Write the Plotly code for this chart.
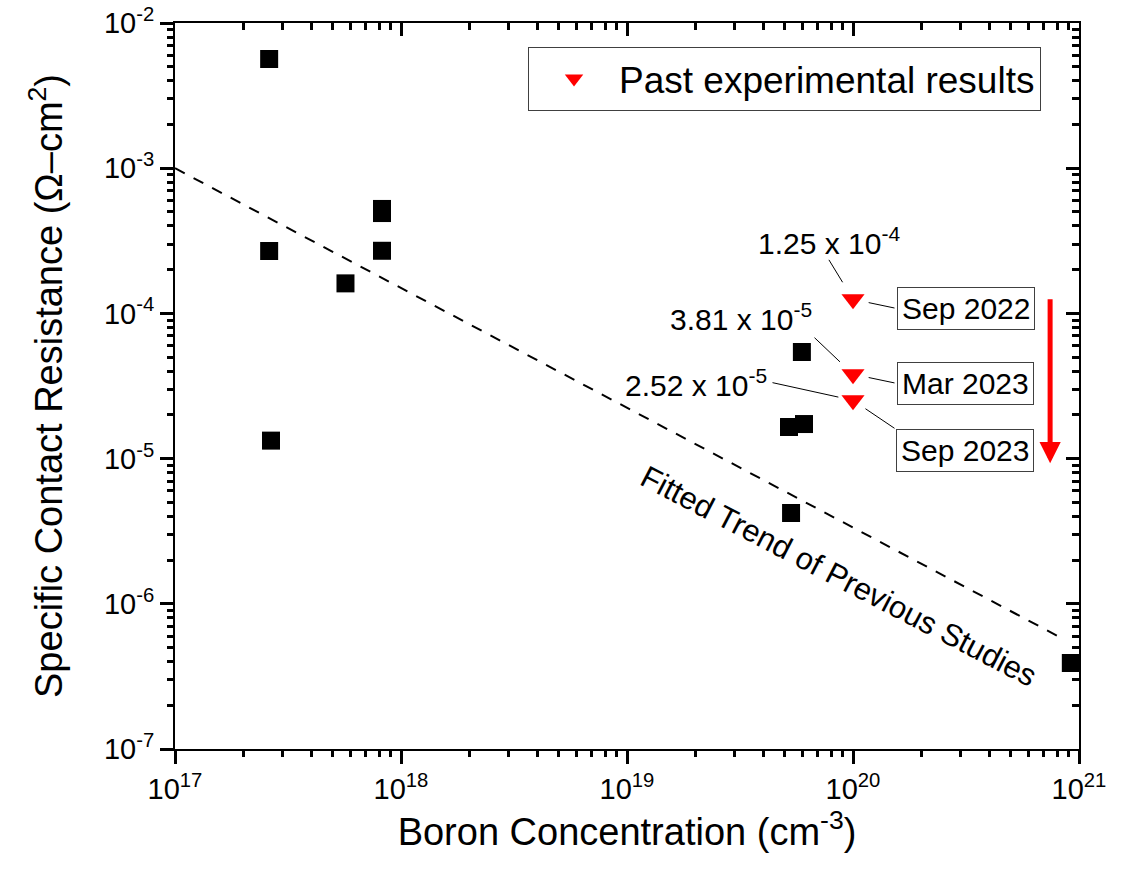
import numpy as np
import plotly.graph_objects as go

# ---- data ----
# previous studies (boron concentration in cm^-3, contact resistance in ohm-cm^2)
prev_conc = [2.61e17, 2.61e17, 2.66e17, 5.68e17, 8.24e17, 8.24e17, 8.24e17,
             5.94e19, 5.21e19, 6.07e19, 5.32e19, 9.2e20]
prev_rc = [5.65e-3, 2.69e-4, 1.33e-5, 1.61e-4, 5.24e-4, 4.91e-4, 2.70e-4,
           5.42e-5, 1.65e-5, 1.73e-5, 4.22e-6, 3.91e-7]

# own experimental results
exp_conc = [1e20, 1e20, 1e20]
exp_rc = [1.25e-4, 3.81e-5, 2.52e-5]
exp_dates = ["Sep 2022", "Mar 2023", "Sep 2023"]
exp_value_text = ["1.25 x 10<sup>-4</sup>", "3.81 x 10<sup>-5</sup>", "2.52 x 10<sup>-5</sup>"]

# fitted trend of previous studies (end points of the straight log-log line)
fit_conc = [1e17, 8.67e20]
fit_rc = [1e-3, 5.64e-7]

# improvement arrow (start and end resistance at a fixed concentration)
trend_arrow_conc = 7.45e20
trend_arrow_rc = [1.28e-4, 9.3e-6]

# axis ticks
x_major = [1e17, 1e18, 1e19, 1e20, 1e21]
x_major_text = ["10<sup>17</sup>", "10<sup>18</sup>", "10<sup>19</sup>", "10<sup>20</sup>", "10<sup>21</sup>"]
y_major = [1e-7, 1e-6, 1e-5, 1e-4, 1e-3, 1e-2]
y_major_text = ["10<sup>-7</sup>", "10<sup>-6</sup>", "10<sup>-5</sup>", "10<sup>-4</sup>",
                "10<sup>-3</sup>", "10<sup>-2</sup>"]

FONT = "Arial, Liberation Sans, sans-serif"
X_RANGE = [17, 21]
Y_RANGE = [-7, -2]
MAJOR_LEN, MINOR_LEN, TICK_W = 13, 7, 2.5

x_minor = [m * 10.0 ** e for e in range(17, 21) for m in range(2, 10)]
y_minor = [m * 10.0 ** e for e in range(-7, -2) for m in range(2, 10)]

fig = go.Figure()

fig.add_trace(go.Scatter(
    x=fit_conc, y=fit_rc, mode="lines",
    line=dict(color="black", width=2, dash="11px,10px"),
    showlegend=False, hoverinfo="skip"))

fig.add_trace(go.Scatter(
    x=prev_conc, y=prev_rc, mode="markers",
    marker=dict(symbol="square", size=18, color="black", line=dict(width=0)),
    showlegend=False, cliponaxis=False))

fig.add_trace(go.Scatter(
    x=exp_conc, y=exp_rc, mode="markers", name="Past experimental results",
    marker=dict(symbol="triangle-down", size=20, color="#ff0000", line=dict(width=0)),
    cliponaxis=False))

# empty traces so the extra tick-only axes are drawn
for xa, ya in (("x2", "y2"), ("x3", "y3"), ("x4", "y4")):
    fig.add_trace(go.Scatter(x=[], y=[], xaxis=xa, yaxis=ya, showlegend=False))

annotations = []
lx = np.log10(exp_conc)
ly = np.log10(exp_rc)

# value labels and leader lines
value_shift = [(-24, 58), (-112, 57), (-157, 17)]
value_leader = [(-25, -41, 20), (-40, -38, 18), (-82, -18, 15)]
date_shift = [(113, -9), (112, -9), (112, -50)]
date_leader = [(43, 9, 16), (43, 9, 16), (43, 29, 15)]

for i in range(3):
    annotations.append(dict(
        x=lx[i], y=ly[i], xref="x", yref="y", text=exp_value_text[i], showarrow=False,
        xshift=value_shift[i][0], yshift=value_shift[i][1],
        font=dict(family=FONT, size=30, color="black")))
    annotations.append(dict(
        x=lx[i], y=ly[i], xref="x", yref="y", text="", showarrow=True,
        ax=value_leader[i][0], ay=value_leader[i][1], standoff=value_leader[i][2],
        arrowhead=0, arrowwidth=1, arrowcolor="black"))
    annotations.append(dict(
        x=lx[i], y=ly[i], xref="x", yref="y", text=exp_dates[i], showarrow=False,
        xshift=date_shift[i][0], yshift=date_shift[i][1],
        bordercolor="#404040", borderwidth=1, borderpad=4, bgcolor="white",
        font=dict(family=FONT, size=30, color="black")))
    annotations.append(dict(
        x=lx[i], y=ly[i], xref="x", yref="y", text="", showarrow=True,
        ax=date_leader[i][0], ay=date_leader[i][1], standoff=date_leader[i][2],
        arrowhead=0, arrowwidth=1, arrowcolor="black"))

# red arrow showing the reduction over time
annotations.append(dict(
    x=np.log10(trend_arrow_conc), y=np.log10(trend_arrow_rc[1]), xref="x", yref="y",
    ax=np.log10(trend_arrow_conc), ay=np.log10(trend_arrow_rc[0]), axref="x", ayref="y",
    text="", showarrow=True, arrowhead=2, arrowwidth=5, arrowsize=0.85, arrowcolor="#ff0000"))

# label of the fitted trend line
annotations.append(dict(
    x=19.938, y=-5.815, xref="x", yref="y", text="Fitted Trend of Previous Studies",
    showarrow=False, textangle=27.5, font=dict(family=FONT, size=31, color="black")))


def tick_axis(rng, side, anchor, over, vals, direction, length):
    """Label-free log axis used only to draw a set of tick marks."""
    return dict(type="log", range=rng, overlaying=over, side=side, anchor=anchor,
                automargin=False, showgrid=False, zeroline=False, showline=False,
                showticklabels=False, ticks=direction, ticklen=length, tickwidth=TICK_W,
                tickcolor="black", tickmode="array", tickvals=vals)


fig.update_layout(
    width=1129, height=871,
    margin=dict(l=175, r=50, t=23, b=122),
    paper_bgcolor="white", plot_bgcolor="white",
    font=dict(family=FONT, color="black"),
    annotations=annotations,
    legend=dict(
        x=0.958, y=0.967, xanchor="right", yanchor="top", itemwidth=80,
        bordercolor="#404040", borderwidth=1, bgcolor="white",
        font=dict(family=FONT, size=37, color="black")),
    xaxis=dict(
        type="log", range=X_RANGE, showgrid=False, zeroline=False, automargin=False,
        showline=True, linecolor="black", linewidth=2, mirror=True,
        ticks="outside", ticklen=MAJOR_LEN, tickwidth=TICK_W, tickcolor="black",
        tickmode="array", tickvals=x_major, ticktext=x_major_text,
        tickfont=dict(family=FONT, size=29),
        title=dict(text="Boron Concentration (cm<sup>-3</sup>)",
                   font=dict(family=FONT, size=38), standoff=3)),
    yaxis=dict(
        type="log", range=Y_RANGE, showgrid=False, zeroline=False, automargin=False,
        showline=True, linecolor="black", linewidth=2, mirror=True,
        ticks="outside", ticklen=MAJOR_LEN, tickwidth=TICK_W, tickcolor="black",
        tickmode="array", tickvals=y_major, ticktext=y_major_text,
        tickfont=dict(family=FONT, size=29),
        title=dict(text="Specific Contact Resistance (\u03a9\u2013cm<sup>2</sup>)",
                   font=dict(family=FONT, size=38), standoff=30)),
    # top / right major ticks pointing into the frame
    xaxis2=tick_axis(X_RANGE, "top", "y", "x", x_major, "inside", MAJOR_LEN),
    yaxis2=tick_axis(Y_RANGE, "right", "x", "y", y_major, "inside", MAJOR_LEN),
    # bottom / left minor ticks
    xaxis3=tick_axis(X_RANGE, "bottom", "y", "x", x_minor, "outside", MINOR_LEN),
    yaxis3=tick_axis(Y_RANGE, "left", "x", "y", y_minor, "outside", MINOR_LEN),
    # top / right minor ticks
    xaxis4=tick_axis(X_RANGE, "top", "y", "x", x_minor, "inside", MINOR_LEN),
    yaxis4=tick_axis(Y_RANGE, "right", "x", "y", y_minor, "inside", MINOR_LEN),
)

fig.write_html("out.html")
